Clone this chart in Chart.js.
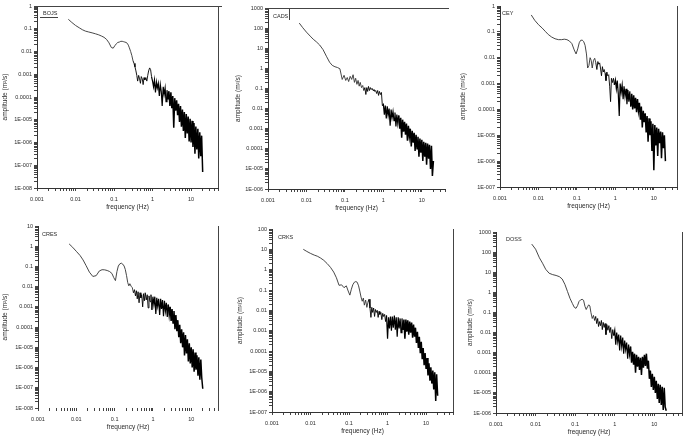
<!DOCTYPE html>
<html><head><meta charset="utf-8">
<script src="https://cdn.jsdelivr.net/npm/chart.js@4.4.1/dist/chart.umd.min.js"></script>
<style>
html,body{margin:0;padding:0;background:#fff;width:685px;height:439px;overflow:hidden;position:relative;}
canvas{position:absolute;}
</style></head><body>
<canvas id="c0"></canvas><canvas id="c1"></canvas><canvas id="c2"></canvas>
<canvas id="c3"></canvas><canvas id="c4"></canvas><canvas id="c5"></canvas>
<script>
// ---------- data ----------
const frequency = [
 0.0065,0.008,0.01,0.0125,0.015,0.018,0.022,0.027,0.033,0.04,
 0.047,0.055,0.064,0.074,0.085,0.095,0.105,0.115,0.125,0.137,
 0.15,0.163,0.177,0.19,0.205,0.22,0.235,0.25,0.27,0.29,
 0.31,0.33,0.35,0.37,0.39,0.41,0.435,0.46,0.485,0.51,
 0.54,0.57,0.6,0.63,0.67,0.71,0.75,0.79,0.84,0.89,
 0.94,1.0,1.06,1.12,1.19,1.26,1.33,1.41,1.5,1.59,
 1.68,1.78,1.89,2.0,2.12,2.24,2.37,2.51,2.66,2.82,
 2.99,3.16,3.35,3.55,3.76,3.98,4.22,4.47,4.73,5.01,
 5.31,5.62,5.96,6.31,6.68,7.08,7.5,7.94,8.41,8.91,
 9.44,10,10.6,11.2,11.9,12.6,13.3,14.1,15.0,15.8,
 16.8,17.8,18.8,20.0];

const ampBOJS = [
 0.26,0.19,0.14,0.11,0.091,0.079,0.072,0.066,0.060,0.054,
 0.048,0.042,0.034,0.024,0.015,0.014,0.018,0.022,0.025,0.026,
 0.028,0.028,0.027,0.026,0.025,0.023,0.019,0.0145,0.010,0.0066,
 0.0040,0.0030,0.0021,0.0014,0.00089,0.0005,0.00089,0.00063,0.0004,0.00079,
 0.00063,0.00035,0.00071,0.00056,0.00071,0.0005,0.00089,0.0014,0.0019,0.0016,
 0.00079,0.0005,0.00028,0.00056,0.00016,0.00045,0.00025,0.0004,0.00011,0.00035,
 0.00018,4.0e-5,0.00028,1.3e-4,2.5e-4,6.3e-5,2.0e-4,7.9e-5,1.8e-4,4.0e-5,
 1.6e-4,3.2e-5,1.1e-4,4.5e-6,8.9e-5,2.5e-5,7.1e-5,1.6e-5,5.0e-5,7.9e-6,
 4.0e-5,5.0e-6,2.8e-5,3.2e-6,2.2e-5,1.6e-6,1.8e-5,2.5e-6,1.4e-5,1.1e-6,
 1.1e-5,1.0e-6,8.9e-6,6.3e-7,7.1e-6,3.2e-7,5.0e-6,5.0e-7,4.0e-6,2.0e-7,
 2.8e-6,2.5e-7,2.0e-6,5.0e-8];

const ampCADS = [
 178,105,63,40,28,21,14.5,8.5,4.0,2.0,
 1.4,1.2,1.1,0.95,0.28,0.45,0.25,0.35,0.22,0.40,
 0.28,0.48,0.20,0.32,0.16,0.25,0.13,0.20,0.11,0.14,
 0.079,0.11,0.05,0.11,0.071,0.126,0.079,0.11,0.089,0.10,
 0.079,0.089,0.071,0.079,0.056,0.079,0.045,0.071,0.05,0.063,
 0.014,0.016,0.005,0.014,0.0032,0.013,0.0045,0.010,0.0014,0.0089,
 0.0035,0.0071,0.0025,0.0063,0.0013,0.005,0.0018,0.0045,0.001,0.0035,
 0.00035,0.0028,0.00071,0.0022,0.0005,0.0018,0.00025,0.0014,0.0004,0.001,
 1.3e-4,7.9e-4,2.0e-4,6.3e-4,7.9e-5,5.0e-4,1.0e-4,4.0e-4,4.0e-5,3.2e-4,
 6.3e-5,2.8e-4,2.5e-5,2.2e-4,4.0e-5,2.0e-4,1.6e-5,1.8e-4,3.2e-5,1.6e-4,
 1.0e-5,1.4e-4,4.5e-6,2.5e-5];

const ampCEY = [
 0.45,0.28,0.19,0.14,0.105,0.079,0.063,0.054,0.05,0.05,
 0.052,0.05,0.044,0.035,0.02,0.014,0.022,0.038,0.047,0.048,
 0.042,0.030,0.014,0.004,0.005,0.010,0.0079,0.004,0.0079,0.0095,
 0.0063,0.0035,0.0071,0.0056,0.0063,0.004,0.002,0.0045,0.0028,0.0035,
 0.0025,0.0013,0.0028,0.002,0.0022,0.00079,0.0002,0.0016,0.0011,0.0016,
 0.00089,0.0014,0.00063,0.0013,0.0004,5.6e-5,0.001,0.00045,0.00089,0.00025,
 0.00079,0.00032,0.00063,0.00016,0.00056,0.0002,0.0005,1.3e-4,4.0e-4,1.0e-4,
 3.5e-4,1.1e-4,2.8e-4,7.9e-5,2.5e-4,8.9e-5,1.8e-4,4.0e-5,1.3e-4,2.0e-5,
 8.9e-5,3.2e-5,7.1e-5,1.3e-5,5.6e-5,5.6e-6,4.5e-5,1.0e-5,3.5e-5,2.5e-6,
 2.8e-5,4.5e-7,2.5e-5,4.0e-6,2.0e-5,1.6e-6,1.8e-5,5.0e-6,1.4e-5,1.3e-6,
 1.3e-5,3.2e-6,1.0e-5,1.0e-6];

const ampCRES = [
 1.3,0.89,0.56,0.35,0.21,0.11,0.052,0.032,0.035,0.060,
 0.069,0.068,0.063,0.056,0.045,0.028,0.020,0.056,0.105,0.135,
 0.145,0.13,0.105,0.071,0.035,0.016,0.011,0.014,0.0105,0.0089,
 0.005,0.0071,0.0035,0.0063,0.0025,0.0056,0.0016,0.005,0.0028,0.004,
 0.001,0.0045,0.002,0.005,0.0022,0.004,0.00089,0.0035,0.0018,0.004,
 0.00071,0.0032,0.0013,0.0032,0.00045,0.0028,0.0011,0.0025,0.0004,0.0025,
 0.00079,0.0022,0.00035,0.002,0.00063,0.0016,0.00032,0.0013,0.0004,0.001,
 0.0002,0.00079,0.00016,0.00063,7.9e-5,4.0e-4,6.3e-5,2.2e-4,3.2e-5,1.3e-4,
 1.6e-5,7.9e-5,1.0e-5,5.6e-5,4.0e-6,4.0e-5,5.0e-6,2.5e-5,2.0e-6,1.6e-5,
 1.6e-6,1.0e-5,1.0e-6,7.9e-6,6.3e-7,5.6e-6,7.9e-7,4.0e-6,4.0e-7,3.2e-6,
 2.5e-7,2.5e-6,3.2e-7,8.9e-8];

const ampCRKS = [
 10,7.9,6.3,5.2,4.6,3.8,2.9,2.0,1.3,0.76,
 0.40,0.17,0.18,0.13,0.16,0.089,0.056,0.11,0.18,0.24,
 0.26,0.24,0.16,0.089,0.045,0.028,0.04,0.018,0.032,0.014,
 0.025,0.035,0.013,0.0045,0.014,0.0079,0.013,0.005,0.011,0.0079,
 0.01,0.0045,0.0089,0.0063,0.0079,0.0035,0.0071,0.005,0.0063,0.0028,
 0.0056,0.0004,0.0045,0.0013,0.005,0.001,0.005,0.0014,0.0056,0.0011,
 0.0045,0.0005,0.0045,0.0013,0.004,0.00079,0.004,0.0011,0.0035,0.0004,
 0.0035,0.00089,0.0032,0.00063,0.0028,0.00079,0.0025,0.00045,0.002,0.0005,
 0.0014,0.00025,0.00089,0.00014,0.0005,7.9e-5,2.8e-4,4.0e-5,1.4e-4,2.0e-5,
 7.9e-5,1.3e-5,4.5e-5,6.3e-6,2.5e-5,3.5e-6,1.6e-5,2.5e-6,1.1e-5,1.3e-6,
 8.9e-6,3.5e-7,7.1e-6,6.3e-7];

const ampDOSS = [
 null,250,140,52,28,14,8.9,7.6,6.9,6.0,
 4.6,2.5,1.1,0.5,0.28,0.18,0.16,0.22,0.35,0.42,
 0.45,0.40,0.20,0.14,0.19,0.24,0.21,0.10,0.05,0.071,
 0.04,0.063,0.028,0.05,0.02,0.035,0.022,0.04,0.014,0.032,
 0.018,0.028,0.0079,0.025,0.013,0.022,0.01,0.018,0.005,0.014,
 0.0071,0.013,0.0025,0.01,0.0035,0.0079,0.0013,0.0071,0.002,0.0056,
 0.00089,0.004,0.0014,0.0032,0.0005,0.0025,0.00079,0.002,0.00032,0.0011,
 0.00025,0.00089,0.0001,0.00079,0.0002,0.00063,0.00014,0.00056,7.9e-5,6.3e-4,
 1.8e-4,7.9e-4,2.2e-4,8.9e-4,1.6e-4,4.0e-4,5.0e-5,1.3e-4,2.0e-5,8.9e-5,
 1.4e-5,6.3e-5,1.0e-5,4.0e-5,5.0e-6,2.8e-5,3.2e-6,2.5e-5,2.5e-6,2.0e-5,
 1.4e-6,1.8e-5,2.0e-6,1.3e-6];

const stationNames = ['BOJS','CADS','CEY','CRES','CRKS','DOSS'];
const stationAmps = [ampBOJS, ampCADS, ampCEY, ampCRES, ampCRKS, ampDOSS];
const yMinValues = [1e-8, 1e-6, 1e-7, 1e-8, 1e-7, 1e-6];
const yMaxValues = [1, 1000, 1, 10, 100, 1000];
const xMinValue = 0.001;
const xMaxValues = [50, 40, 40, 50, 50, 50];
// tick labels by power of ten
const xTickLabels = ['0.001','0.01','0.1','1','10'];            // 1e-3 .. 1e1
const yTickLabels = ['1E-008','1E-007','1E-006','1E-005','0.0001','0.001','0.01','0.1','1','10','100','1000']; // 1e-8 .. 1e3
const xTitle = 'frequency (Hz)';
const yTitle = 'amplitude (m²/s)';

// ---------- layout (positions / styles only) ----------
const panelLayout = [
 {x:1,   y:0,   w:223, h:211, yw:36, top:true,  right:true,  xLine:true,  lx:6,  ly:7, deco:'underline'},
 {x:234, y:2,   w:217, h:210, yw:34, top:true,  right:false, xLine:true,  lx:5,  ly:8, deco:'bar'},
 {x:459, y:0,   w:224, h:210, yw:41, top:false, right:true,  xLine:true,  lx:2,  ly:7},
 {x:1,   y:220, w:223, h:211, yw:37, top:false, right:true,  xLine:false, lx:4,  ly:8},
 {x:236, y:223, w:223, h:212, yw:36, top:false, right:true,  xLine:true,  lx:6,  ly:8},
 {x:466, y:226, w:222, h:210, yw:30, top:false, right:true,  xLine:true,  lx:10, ly:7}
];
const FONT = '"Liberation Sans", Arial, sans-serif';
const INK = '#2a2a2a';

function powLabel(v, labels, minExp){
  const l = Math.log10(v), e = Math.round(l);
  if (Math.abs(l - e) > 1e-6) return '';
  const s = labels[e - minExp];
  return s === undefined ? '' : s;
}
function keepIntegerSignificand(scale){
  scale.ticks = scale.ticks.filter(t => {
    const e = Math.floor(Math.log10(t.value) + 1e-9);
    const s = t.value / Math.pow(10, e);
    return Math.abs(s - Math.round(s)) < 1e-6;
  });
}

const panelDecor = {
  id: 'panelDecor',
  afterDraw(chart, args, o){
    const {ctx, chartArea: a} = chart;
    ctx.save();
    ctx.strokeStyle = '#444'; ctx.lineWidth = 1;
    ctx.beginPath();
    if (o.top){ ctx.moveTo(a.left, Math.round(a.top)+0.5); ctx.lineTo(a.right + 4, Math.round(a.top)+0.5); }
    if (o.right){ ctx.moveTo(Math.round(a.right)+0.5, a.top); ctx.lineTo(Math.round(a.right)+0.5, a.bottom); }
    if (o.deco === 'underline'){ ctx.moveTo(a.left+3, a.top+11.5); ctx.lineTo(a.left+21, a.top+11.5); }
    if (o.deco === 'bar'){ ctx.moveTo(a.left+21.5, a.top); ctx.lineTo(a.left+21.5, a.top+12); }
    ctx.stroke();
    ctx.fillStyle = INK;
    ctx.font = '5.5px ' + FONT;
    ctx.textBaseline = 'middle';
    ctx.fillText(o.text, a.left + o.lx, a.top + o.ly);
    ctx.restore();
  }
};

stationNames.forEach((name, i) => {
  const L = panelLayout[i];
  const cv = document.getElementById('c' + i);
  cv.width = L.w; cv.height = L.h;
  cv.style.left = L.x + 'px'; cv.style.top = L.y + 'px';
  cv.style.width = L.w + 'px'; cv.style.height = L.h + 'px';
  const amps = stationAmps[i];
  new Chart(cv, {
    type: 'line',
    data: { datasets: [{
      data: frequency.map((f, k) => ({x: f, y: amps[k]})),
      borderColor: '#111', borderWidth: 0.9, pointRadius: 0, tension: 0, spanGaps: false,
      segment: {
        borderWidth: c => (c.p0.parsed.x >= 2.5 ? 1.5 : (c.p0.parsed.x >= 0.9 ? 1.2 : 0.9)),
        borderColor: c => (c.p0.parsed.x >= 0.3 ? '#000' : '#333')
      }
    }]},
    options: {
      responsive: false, animation: false, devicePixelRatio: 1,
      layout: { padding: {top: 6, right: 6, left: 0, bottom: 0} },
      plugins: {
        legend: {display: false}, tooltip: {enabled: false},
        panelDecor: {text: name, top: L.top, right: L.right, lx: L.lx, ly: L.ly, deco: L.deco}
      },
      scales: {
        x: {
          type: 'logarithmic', min: xMinValue, max: xMaxValues[i],
          afterBuildTicks: keepIntegerSignificand,
          afterFit(s){ s.height = 23; },
          border: {display: L.xLine, color: '#333', width: 1},
          grid: {display: true, drawOnChartArea: false, drawTicks: true, tickLength: 3, color: '#444'},
          ticks: {autoSkip: false, maxRotation: 0, padding: 5, color: INK,
                  font: {size: 5.5, family: FONT},
                  callback: v => powLabel(v, xTickLabels, -3)},
          title: {display: true, text: xTitle, color: INK, padding: 0, font: {size: 6.5, family: FONT}}
        },
        y: {
          type: 'logarithmic', min: yMinValues[i], max: yMaxValues[i],
          afterBuildTicks: keepIntegerSignificand,
          afterFit(s){ s.width = L.yw; },
          border: {display: true, color: '#333', width: 1},
          grid: {display: true, drawOnChartArea: false, drawTicks: true, tickLength: 3, color: '#444'},
          ticks: {autoSkip: false, padding: 2, color: INK,
                  font: {size: 5.5, family: FONT},
                  callback: v => powLabel(v, yTickLabels, -8)},
          title: {display: true, text: yTitle, color: INK, padding: 0, font: {size: 6.5, family: FONT}}
        }
      }
    },
    plugins: [panelDecor]
  });
});
</script>
</body></html>
